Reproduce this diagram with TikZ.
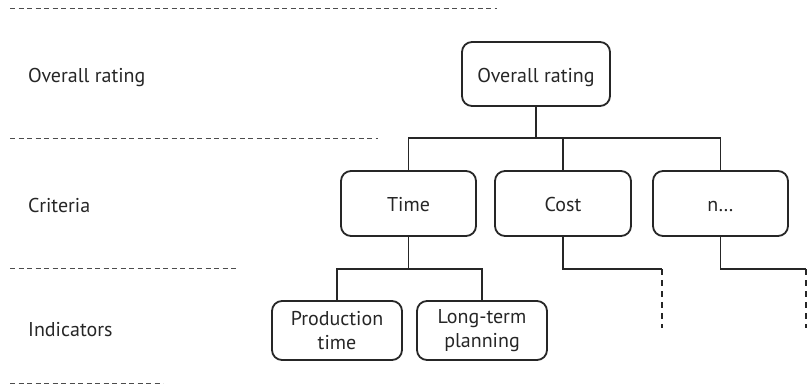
\documentclass[tikz,border=0pt]{standalone}
\usepackage{fontspec}
\setmainfont{PT Sans}
\begin{document}
\begin{tikzpicture}[x=1pt,y=-1pt,
  box/.style={draw=black!85,line width=1.8pt,rounded corners=10pt,align=center,inner sep=0pt,font=\fontsize{20}{24}\selectfont,text=black!85},
  single/.style={text height=16pt,text depth=0pt},
  lvl/.style={anchor=base west,inner sep=0pt,font=\fontsize{20}{24}\selectfont,text=black!85},
  sep/.style={draw=black!70,line width=0.9pt,dash pattern=on 5pt off 3.5pt},
  conn/.style={draw=black!85,line width=1.5pt},
  dconn/.style={draw=black!85,line width=1.5pt,dash pattern=on 6pt off 5pt}]
\useasboundingbox (0,0) rectangle (807,388);
% separators
\coordinate (s1a) at (10,8); \coordinate (s1b) at (497,8);
\coordinate (s2a) at (10,138); \coordinate (s2b) at (378,138);
\coordinate (s3a) at (10,268); \coordinate (s3b) at (237,268);
\coordinate (s4a) at (10,383); \coordinate (s4b) at (163,383);
\draw[sep] (s1a) -- (s1b);
\draw[sep] (s2a) -- (s2b);
\draw[sep] (s3a) -- (s3b);
\draw[sep] (s4a) -- (s4b);
% level labels
\node[lvl] (l1) at (28,82) {Overall rating};
\node[lvl] (l2) at (28,212) {Criteria};
\node[lvl] (l3) at (28,336) {Indicators};
% boxes
\node[box,single,minimum width=148pt,minimum height=64pt] (overall) at (536,74) {Overall rating};
\node[box,single,minimum width=135pt,minimum height=65pt] (time) at (408.5,203.5) {Time};
\node[box,single,minimum width=136pt,minimum height=65pt] (cost) at (563,203.5) {Cost};
\node[box,single,minimum width=135pt,minimum height=65pt] (nn) at (720.5,203.5) {n\ldots};
\node[box,minimum width=130pt,minimum height=59pt] (prod) at (337,330.5) {Production\\time};
\node[box,minimum width=130pt,minimum height=59pt] (long) at (482,330.5) {Long-term\\planning};
% connectors
\coordinate (b1) at (536,138);
\coordinate (b2) at (269,269);
\draw[conn] (overall.south) -- (b1);
\draw[conn] (time.north) |- (nn.north |- b1) -- (nn.north);
\draw[conn] (cost.north) -- (cost.north |- b1);
\draw[conn] (time.south) -- (time.south |- b2);
\draw[conn] (prod.north) |- (long.north |- b2) -- (long.north);
\coordinate (c1) at (662,269);
\coordinate (c1e) at (662,328);
\coordinate (c2) at (806,269);
\coordinate (c2e) at (806,328);
\draw[conn] (cost.south) |- (c1);
\draw[dconn] (c1) -- (c1e);
\draw[conn] (nn.south) |- (c2);
\draw[dconn] (c2) -- (c2e);
\end{tikzpicture}
\end{document}
